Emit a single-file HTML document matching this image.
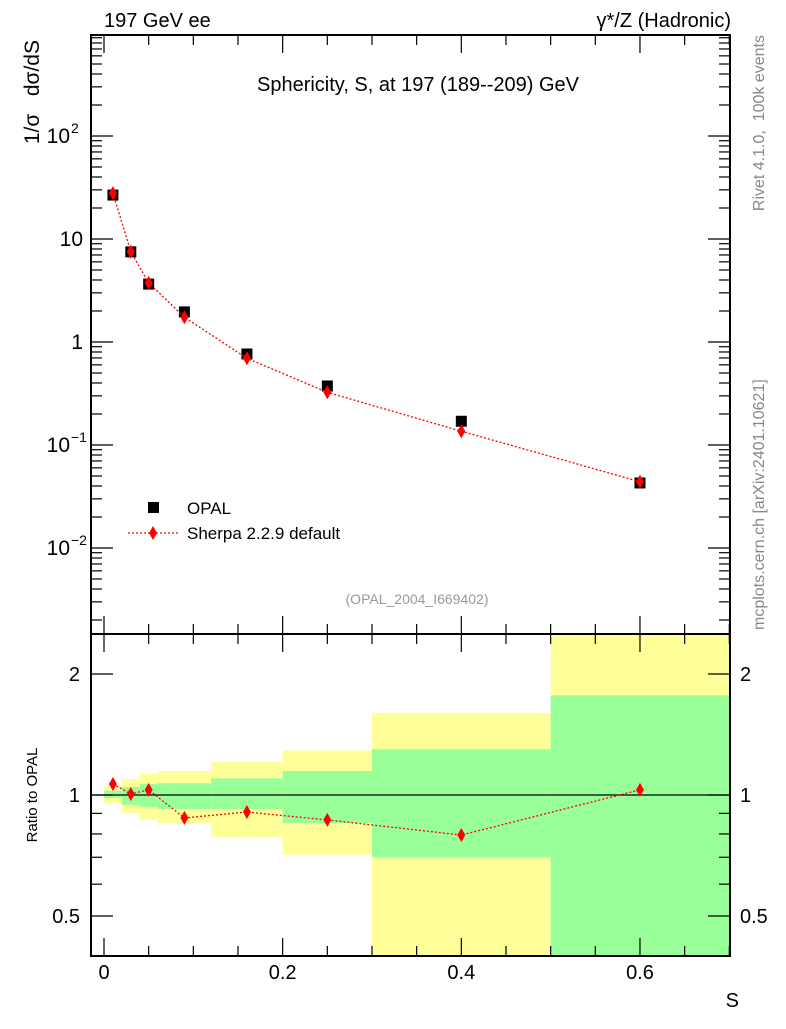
<!DOCTYPE html>
<html><head><meta charset="utf-8"><style>
body{margin:0;background:#fff;}
svg text{font-family:"Liberation Sans",Arial,sans-serif;}
</style></head><body>
<svg id="chart" width="786" height="1024" xmlns="http://www.w3.org/2000/svg">
<g id="bands"></g>
<g id="marks"></g>
<g id="axes"></g>
<text x="104" y="27" font-size="20">197 GeV ee</text>
<text x="731" y="27" font-size="20" text-anchor="end">γ*/Z (Hadronic)</text>
<text x="418" y="91" font-size="20" text-anchor="middle">Sphericity, S, at 197 (189--209) GeV</text>
<text transform="translate(39,40) rotate(-90)" font-size="21" text-anchor="end" xml:space="preserve">1/σ   dσ/dS</text>
<text transform="translate(37,795) rotate(-90)" font-size="15" text-anchor="middle">Ratio to OPAL</text>
<text x="739" y="1007" font-size="20" text-anchor="end">S</text>
<text transform="translate(764,35) rotate(-90)" font-size="16" fill="#888" text-anchor="end" xml:space="preserve">Rivet 4.1.0,  100k events</text>
<text transform="translate(764,630) rotate(-90)" font-size="16" fill="#888">mcplots.cern.ch [arXiv:2401.10621]</text>
<text x="417" y="604" font-size="14" fill="#999" text-anchor="middle">(OPAL_2004_I669402)</text>
<g>
<rect x="148" y="502" width="11" height="11" fill="#000"/>
<text x="187" y="514" font-size="17">OPAL</text>
<line x1="128" y1="533" x2="178" y2="533" stroke="red" stroke-width="1.3" stroke-dasharray="2,2"/>
<path d="M153,526 L157,533 L153,540 L149,533 Z" fill="red"/>
<text x="187" y="539" font-size="17">Sherpa 2.2.9 default</text>
</g>
</svg>
<script>
const binEdges=[0,0.02,0.04,0.06,0.12,0.2,0.3,0.5,0.7];
const xCenters=[0.01,0.03,0.05,0.09,0.16,0.25,0.4,0.6];
const opalValues=[26.7,7.5,3.65,1.96,0.765,0.374,0.17,0.0428];
const sherpaValues=[27.9,7.55,3.75,1.74,0.695,0.325,0.136,0.044];
const sherpaRatio=[1.065,1.006,1.03,0.877,0.907,0.867,0.795,1.03];
const greenHi=[1.025,1.047,1.065,1.07,1.1,1.147,1.3,1.77];
const greenLo=[0.983,0.945,0.934,0.923,0.923,0.852,0.7,0.3];
const yellowHi=[1.05,1.096,1.128,1.147,1.21,1.29,1.6,3];
const yellowLo=[0.955,0.902,0.867,0.852,0.786,0.71,0.3,0.3];
const xTicks=[0,0.2,0.4,0.6];
const xTickLabels=["0","0.2","0.4","0.6"];
const ratioTicks=[0.5,1,2];
const ratioTickLabels=["0.5","1","2"];

const NS="http://www.w3.org/2000/svg";
const L=91,R=730,T=35,MB=634,RB=956;
const X=v=>104+v*893.3;
const Y=v=>342-Math.log10(v)*103;
const RY=v=>795-Math.log2(v)*121;
const clampR=y=>Math.max(MB,Math.min(RB,y));
function mk(parent,tag,attrs){const e=document.createElementNS(NS,tag);for(const k in attrs)e.setAttribute(k,attrs[k]);document.getElementById(parent).appendChild(e);return e;}

for(let i=0;i<xCenters.length;i++){
  const x0=X(binEdges[i]),x1=X(binEdges[i+1]);
  let e=mk('bands','rect',{x:x0,y:clampR(RY(yellowHi[i])),width:x1-x0,height:clampR(RY(yellowLo[i]))-clampR(RY(yellowHi[i])),fill:'#ffff99'});
  
  
  e=mk('bands','rect',{x:x0,y:clampR(RY(greenHi[i])),width:x1-x0,height:clampR(RY(greenLo[i]))-clampR(RY(greenHi[i])),fill:'#99ff99'});
  
  
}
let ref=mk('bands','line',{x1:L,x2:R,y1:RY(1),y2:RY(1),stroke:'#000','stroke-width':1.3});



for(let i=0;i<xCenters.length;i++){
  const e=mk('marks','rect',{x:X(xCenters[i])-5.5,y:Y(opalValues[i])-5.5,width:11,height:11,fill:'#000'});
  
  
}
const dia=(x,y)=>`M${x},${y-7} L${x+4},${y} L${x},${y+7} L${x-4},${y} Z`;
let p=mk('marks','polyline',{points:xCenters.map((x,i)=>X(x)+','+Y(sherpaValues[i])).join(' '),fill:'none',stroke:'red','stroke-width':1.3,'stroke-dasharray':'2,2'});


p=mk('marks','polyline',{points:xCenters.map((x,i)=>X(x)+','+RY(sherpaRatio[i])).join(' '),fill:'none',stroke:'red','stroke-width':1.3,'stroke-dasharray':'2,2'});


for(let i=0;i<xCenters.length;i++){
  let e=mk('marks','path',{d:dia(X(xCenters[i]),Y(sherpaValues[i])),fill:'red'});
  
  
  e=mk('marks','path',{d:dia(X(xCenters[i]),RY(sherpaRatio[i])),fill:'red'});
  
  
}

let f=mk('axes','rect',{x:L,y:T,width:R-L,height:MB-T,fill:'none',stroke:'#000','stroke-width':2});


f=mk('axes','rect',{x:L,y:MB,width:R-L,height:RB-MB,fill:'none',stroke:'#000','stroke-width':2});


function tick(x1,y1,x2,y2){const e=mk('axes','line',{x1,y1,x2,y2,stroke:'#000','stroke-width':1.2});}
for(let k=0;k<=14;k++){const v=k*0.05;const x=X(v);if(x>R)break;const len=(k%4==0)?18:10;
  tick(x,MB,x,MB-len);tick(x,T,x,T+len);tick(x,RB,x,RB-len);tick(x,MB,x,MB+len);}
xTicks.forEach((v,i)=>{const t=mk('axes','text',{x:X(v),y:979,'font-size':20,'text-anchor':'middle'});t.textContent=xTickLabels[i];});
for(let d=-3;d<=2;d++){for(let m=1;m<10;m++){const v=m*Math.pow(10,d);const y=Y(v);if(y<T||y>MB)continue;const len=m==1?22:11;tick(L,y,L+len,y);tick(R,y,R-len,y);}}
const yl=[[100,"10","2"],[10,"10",""],[1,"1",""],[0.1,"10","−1"],[0.01,"10","−2"]];
yl.forEach(a=>{const t=mk('axes','text',{x:a[2]?70:83,y:Y(a[0])+7,'font-size':21,'text-anchor':'end'});t.textContent=a[1];
  if(a[2]){const s=mk('axes','text',{x:71,y:Y(a[0])-3,'font-size':14});s.textContent=a[2];}});
[0.5,0.6,0.7,0.8,0.9,1,2].forEach(v=>{const y=RY(v);const len=(v==0.5||v==1||v==2)?22:11;tick(L,y,L+len,y);tick(R,y,R-len,y);});
ratioTicks.forEach((v,i)=>{let t=mk('axes','text',{x:80,y:RY(v)+7,'font-size':20,'text-anchor':'end'});t.textContent=ratioTickLabels[i];
  t=mk('axes','text',{x:740,y:RY(v)+7,'font-size':20});t.textContent=ratioTickLabels[i];});
</script>
</body></html>
